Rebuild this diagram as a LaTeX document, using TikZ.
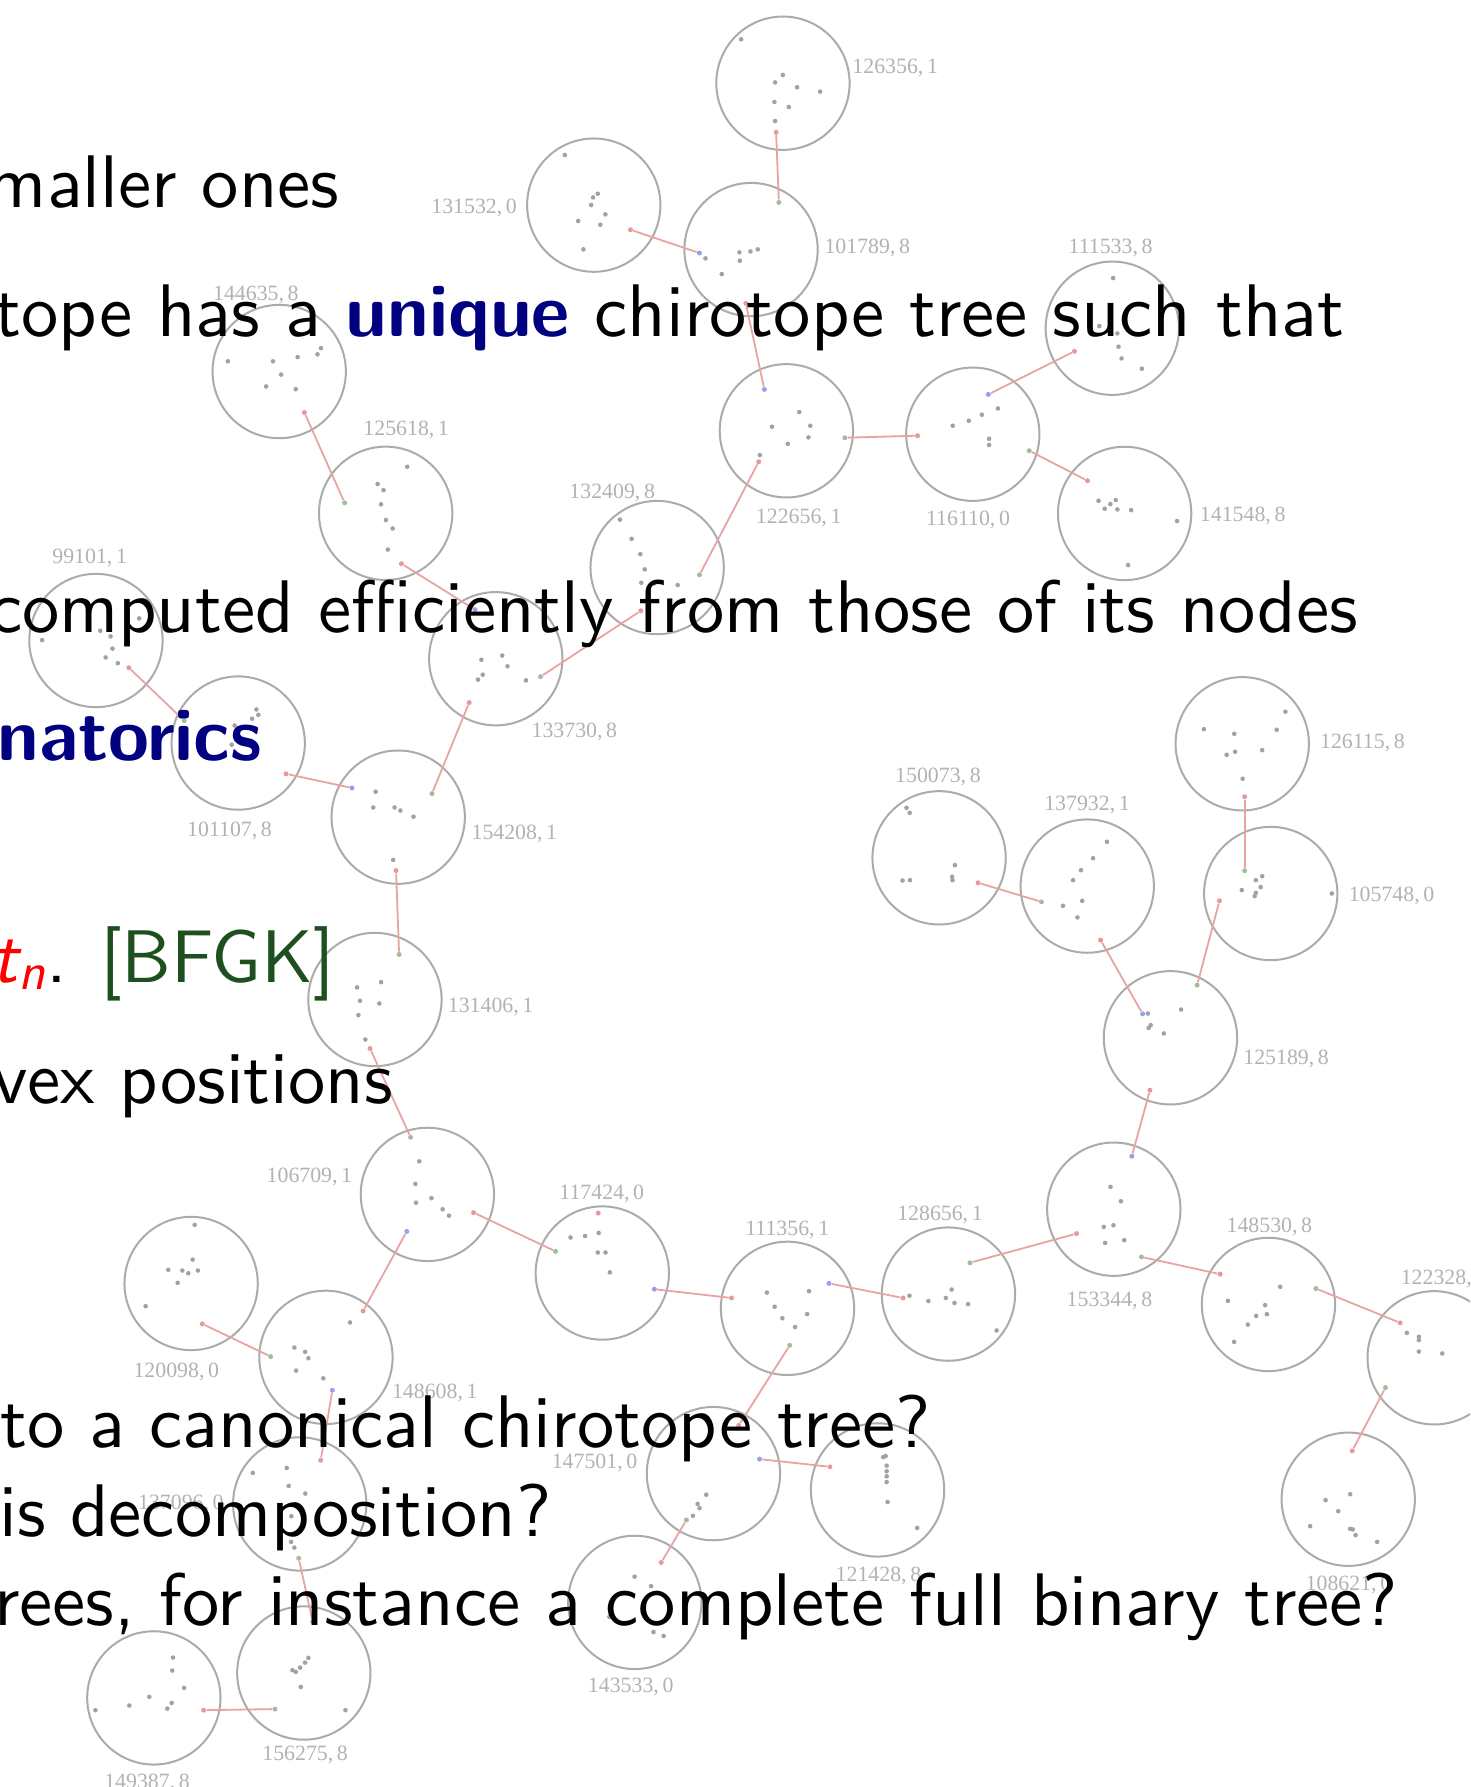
\documentclass[tikz,border=0pt]{standalone}
\usepackage{fontspec}
\usepackage{xcolor}
\newfontfamily\slidefont{lmsans10-regular.otf}[BoldFont=lmsans10-bold.otf, ItalicFont=lmsans10-oblique.otf]
\newfontfamily\tagfont{Liberation Serif}
\definecolor{ctBlue}{HTML}{000080}
\definecolor{ctGreen}{HTML}{1E4F1E}
\definecolor{ctRing}{HTML}{ABABAB}
\definecolor{ctPt}{HTML}{A2A2A2}
\definecolor{ctLink}{HTML}{E8A3A3}
\definecolor{ctPink}{HTML}{E8979A}
\definecolor{ctSage}{HTML}{A3BC9D}
\definecolor{ctLilac}{HTML}{9C9CF2}
\definecolor{ctLabel}{HTML}{B2B2B2}
\tikzset{
  ring/.style={circle, draw=ctRing, line width=1pt, minimum size=2.34cm, inner sep=0pt},
  ptdot/.style={fill=ctPt},
  endpt/.style={circle, inner sep=0pt, minimum size=2.5pt},
  pinkend/.style={endpt, fill=ctPink},
  sageend/.style={endpt, fill=ctSage},
  lilacend/.style={endpt, fill=ctLilac},
  link/.style={draw=ctLink, line width=0.9pt},
  tag/.style={font=\tagfont\fontsize{10.9}{12}\selectfont, text=ctLabel, inner sep=0pt, text depth=0pt},
  slide/.style={font=\slidefont\fontsize{37.2}{40}\selectfont, inner sep=0pt, anchor=base east}
}
\begin{document}
\begin{tikzpicture}[x=0.02cm, y=-0.02cm]
\useasboundingbox (0,0) rectangle (1290,1568);
\clip (0,0) rectangle (1290,1568);

% rings
\node[ring] (r126356) at (687,73) {};
\node[ring] (r131532) at (521,180) {};
\node[ring] (r101789) at (659,219) {};
\node[ring] (r144635) at (245,326) {};
\node[ring] (r111533) at (976,288) {};
\node[ring] (r122656) at (690,378) {};
\node[ring] (r116110) at (853.6,381) {};
\node[ring] (r125618) at (338.4,450.4) {};
\node[ring] (r141548) at (986.8,450.5) {};
\node[ring] (r132409) at (576.6,498) {};
\node[ring] (r99101) at (84.2,562) {};
\node[ring] (r133730) at (435,578) {};
\node[ring] (r101107) at (209,652) {};
\node[ring] (r154208) at (349.4,717) {};
\node[ring] (r126115) at (1090,652.6) {};
\node[ring] (r150073) at (824,752.7) {};
\node[ring] (r137932) at (954,777.5) {};
\node[ring] (r105748) at (1115,784) {};
\node[ring] (r131406) at (329,877) {};
\node[ring] (r125189) at (1027,910.6) {};
\node[ring] (r106709) at (375,1048) {};
\node[ring] (r117424) at (528.5,1117) {};
\node[ring] (r153344) at (977.3,1061) {};
\node[ring] (r111356) at (691,1148) {};
\node[ring] (r128656) at (832.2,1135.5) {};
\node[ring] (r148530) at (1113,1144.6) {};
\node[ring] (r120098) at (167.7,1126.2) {};
\node[ring] (r148608) at (286,1191) {};
\node[ring] (r122328) at (1258.4,1191.4) {};
\node[ring] (r137096) at (263,1319.6) {};
\node[ring] (r147501) at (626,1293) {};
\node[ring] (r121428) at (770,1307.3) {};
\node[ring] (r108621) at (1183,1315.5) {};
\node[ring] (r143533) at (557,1406) {};
\node[ring] (r149387) at (135,1489.8) {};
\node[ring] (r156275) at (266.6,1468) {};

% points
\foreach \x/\y in {650.3/34.5, 686.9/65.8, 680.1/72.3, 699.4/76.6, 719.6/80.4, 679.5/89.5, 692.1/93.9, 680.1/106.2,
  619/226.7, 648.8/221.4, 658.5/220.6, 664.9/218.8, 649.1/228.8, 633.3/240.5,
  495.6/136, 524.5/170, 520.4/173.2, 518.7/179.9, 531.2/188.1, 507.3/193.9, 526.8/197.2, 511.9/218.8,
  199.9/317, 239.5/317, 261.2/313.3, 278.6/310.9, 281.6/305.5, 246.7/328.7, 233.5/339.1, 259.5/341.5,
  357.3/409.6, 331.3/424.7, 336.5/430.1, 334.3/442.5, 338.6/456.3, 344.5/463.7, 340.3/482.2,
  701.3/361.6, 677.4/374.4, 711/373.6, 709.4/383.8, 691.2/389.4, 666.7/399.3,
  836/373.6, 850.1/369.2, 861.5/363.9, 875.6/358.4, 867.9/385, 867.9/390.5,
  976.7/244, 964.6/286.1, 980.4/292.5, 981.4/304.2, 984.1/314.5, 1001.9/323.5,
  963.9/439.4, 969.3/446.4, 974.3/442.3, 979/438.8, 980.4/447, 992.5/447.6, 1032.8/457.2, 989.8/495.8,
  544/456, 554.2/472.8, 561.9/486.2, 565.7/499.6, 562.7/511.4, 573.8/512, 594.6/513.4,
  122.1/542.6, 88/553.4, 97/558.4, 98.7/569.1, 92.7/576.9, 103.4/581.9, 37/561.7,
  422.4/578.9, 440.7/575.2, 445.3/584.6, 423.6/592, 419.4/596.3, 461.5/597,
  225/622.5, 226.7/627.2, 221.2/630.6, 205.9/636.6, 203.3/653.4,
  329.6/694.7, 327.5/708.5, 346.2/708.5, 351.3/711.2, 362.8/716.6, 345/754.5}
  \fill[ptdot] (\x,\y) circle (1.15pt);
\foreach \x/\y in {1127.9/624.5, 1056.3/639.8, 1083/643.9, 1120.2/640.3, 1076.3/662.3, 1083.7/659.6, 1107.5/658.2, 1090.3/683.3,
  795.4/708.8, 798.2/713.2, 791.9/772.6, 798.5/772.3, 837.9/759.1, 835.4/769.3, 835.8/772.3,
  971.3/738.6, 959.1/753, 948.5/763.5, 941.5/772.3, 949.6/790.4, 932.7/794.8, 945.4/805,
  1101.9/772.3, 1107.5/768.8, 1089.6/781, 1106.1/778.4, 1101.9/783.4, 1100.9/786.3, 1168.6/784,
  1007.2/889.3, 1036.3/885.8, 1009.7/899.5, 1007.9/901.9, 1021.2/906.8,
  334.4/861.8, 313.3/866.4, 315.9/878.1, 332.9/880.5, 314.5/890.7, 320.6/912.1, 284.3/871.1,
  367.9/1019, 364.5/1038.8, 365/1055.3, 378.6/1051.3, 388.4/1061, 393.9/1066.7,
  500.6/1085.8, 513.4/1084.5, 525.3/1081.8, 524.5/1099, 531.3/1099, 535.1/1116.4,
  672.9/1134.2, 709.9/1132.9, 679.7/1146.6, 686.5/1156.7, 708.2/1153, 697.6/1164.4,
  798/1136.9, 814.6/1141.6, 829.9/1138.9, 835/1131.5, 837.5/1143.3, 849.4/1144.3, 874.5/1167.4,
  974.4/1041.4, 983.5/1054, 968.5/1076.5, 977/1075.1, 969.7/1090.6, 986.4/1088.2,
  1123.3/1129.1, 1077.4/1141.4, 1110.1/1145.2, 1102.2/1154.6, 1111.6/1153.1, 1094.9/1162.2, 1082.9/1177.4,
  1234.4/1169.5, 1245/1173, 1245/1175.8, 1245/1185.9, 1265.5/1187.6,
  1184.7/1311.1, 1163.1/1316.3, 1174.2/1326, 1149.6/1339.1, 1184.7/1341.5, 1187/1342, 1189.4/1347, 1208.4/1352.9}
  \fill[ptdot] (\x,\y) circle (1.15pt);
\foreach \x/\y in {170.8/1074.7, 169/1105.2, 147.7/1114.2, 160/1114.8, 165.2/1117.2, 173.7/1114.8, 155.9/1125.6, 127.8/1146.1,
  258.3/1182.4, 267.7/1186.2, 270.6/1191.8, 259.8/1202.6, 283.7/1209.4, 307.1/1160.4,
  251.6/1288, 221.8/1292.4, 253.3/1303.8, 267.9/1310.5, 255.7/1330.4, 255.4/1352.9, 258.3/1357.9,
  619.7/1311.5, 612.1/1319.6, 613.8/1323.3, 608/1330,
  777.1/1277.6, 775/1278.5, 778/1286, 778/1291, 778/1295.4, 778/1300.4, 778.8/1317.9, 804.8/1340.7,
  556.8/1383.4, 571.3/1391.8, 534.7/1418.6, 573.4/1432, 582.3/1435.4,
  151.8/1454.4, 151.2/1465.8, 161.5/1481, 131/1488.9, 113.5/1496.5, 150.6/1494.2, 146.8/1499.2, 83.7/1500.6,
  270.6/1454.7, 267.7/1458.8, 263.3/1463.2, 259.5/1467, 256.6/1465.5, 263.9/1480.2, 303.1/1500.6}
  \fill[ptdot] (\x,\y) circle (1.15pt);

% link ends
\node[pinkend] (p126356) at (681,116.1) {};
\node[pinkend] (p131532) at (553.2,201.6) {};
\node[sageend] (g101789) at (683.4,177.6) {};
\node[lilacend] (b101789) at (613.7,222) {};
\node[pinkend] (p101789) at (654.4,266.2) {};
\node[pinkend] (p144635) at (267.1,362) {};
\node[sageend] (g125618) at (302.4,441.2) {};
\node[pinkend] (p125618) at (352.2,494.6) {};
\node[lilacend] (b122656) at (670.7,341.7) {};
\node[sageend] (g122656) at (741.3,384.1) {};
\node[pinkend] (p122656) at (665.7,405.2) {};
\node[lilacend] (b116110) at (867.2,346.1) {};
\node[sageend] (g116110) at (903.1,395.5) {};
\node[pinkend] (p116110) at (805.1,382.3) {};
\node[pinkend] (p111533) at (942.8,308.3) {};
\node[pinkend] (p141548) at (954.2,421.8) {};
\node[sageend] (g132409) at (613.8,504.3) {};
\node[pinkend] (p132409) at (562.3,535.9) {};
\node[pinkend] (p99101) at (113.1,585.9) {};
\node[sageend] (g133730) at (474.3,593.7) {};
\node[lilacend] (b133730) at (416.8,534.9) {};
\node[pinkend] (p133730) at (411.7,616.5) {};
\node[sageend] (g101107) at (161.6,632.3) {};
\node[pinkend] (p101107) at (251,679) {};
\node[lilacend] (b154208) at (308.8,691.4) {};
\node[sageend] (g154208) at (379,696.4) {};
\node[pinkend] (p154208) at (347.5,763.9) {};
\node[pinkend] (p126115) at (1092.1,699.1) {};
\node[pinkend] (p150073) at (858.2,774.6) {};
\node[sageend] (g137932) at (913.8,791.3) {};
\node[pinkend] (p137932) at (965.7,824.9) {};
\node[sageend] (g105748) at (1092.1,764) {};
\node[pinkend] (p105748) at (1070,790.4) {};
\node[lilacend] (b125189) at (1002.6,889.6) {};
\node[sageend] (g125189) at (1050.4,864.4) {};
\node[pinkend] (p125189) at (1009,956.6) {};
\node[sageend] (g131406) at (350.2,837.5) {};
\node[pinkend] (p131406) at (324.7,920) {};
\node[sageend] (g106709) at (360.3,997.9) {};
\node[pinkend] (p106709) at (415.6,1064) {};
\node[lilacend] (b106709) at (356.9,1080.5) {};
\node[pinkend] (p117424) at (524.9,1064.4) {};
\node[sageend] (g117424) at (487.5,1098) {};
\node[lilacend] (b117424) at (574.2,1131.2) {};
\node[pinkend] (p111356) at (641.9,1138.9) {};
\node[lilacend] (b111356) at (727.4,1126.1) {};
\node[sageend] (g111356) at (692.9,1180.5) {};
\node[pinkend] (p128656) at (792.4,1138.9) {};
\node[sageend] (g128656) at (851.1,1108) {};
\node[pinkend] (p153344) at (944.6,1082.4) {};
\node[sageend] (g153344) at (1001.6,1102.9) {};
\node[lilacend] (b153344) at (993.1,1014.5) {};
\node[pinkend] (p148530) at (1070.6,1118) {};
\node[sageend] (g148530) at (1154.6,1130.6) {};
\node[pinkend] (p122328) at (1228.6,1160.7) {};
\node[sageend] (g122328) at (1215.7,1217.5) {};
\node[pinkend] (p108621) at (1186.5,1273) {};
\node[pinkend] (p120098) at (177.5,1161.6) {};
\node[sageend] (g148608) at (237.5,1190.3) {};
\node[lilacend] (b148608) at (291.6,1219.9) {};
\node[pinkend] (p148608) at (318.6,1150.3) {};
\node[pinkend] (p137096) at (281.4,1281.3) {};
\node[sageend] (g137096) at (262.1,1367.3) {};
\node[sageend] (g147501) at (602.3,1333.7) {};
\node[lilacend] (b147501) at (666.5,1280.3) {};
\node[pinkend] (p147501) at (648.2,1250.7) {};
\node[pinkend] (p121428) at (728.2,1287) {};
\node[pinkend] (p143533) at (580.2,1371) {};
\node[pinkend] (p149387) at (178.7,1500.6) {};
\node[pinkend] (p156275) at (274.4,1423) {};
\node[sageend] (g156275) at (241.3,1499.6) {};

% links
\draw[link] (p126356) -- (g101789);
\draw[link] (p131532) -- (b101789);
\draw[link] (p101789) -- (b122656);
\draw[link] (p116110) -- (g122656);
\draw[link] (p111533) -- (b116110);
\draw[link] (p141548) -- (g116110);
\draw[link] (p122656) -- (g132409);
\draw[link] (p132409) -- (g133730);
\draw[link] (p125618) -- (b133730);
\draw[link] (p144635) -- (g125618);
\draw[link] (p133730) -- (g154208);
\draw[link] (p99101) -- (g101107);
\draw[link] (p101107) -- (b154208);
\draw[link] (p154208) -- (g131406);
\draw[link] (p131406) -- (g106709);
\draw[link] (p106709) -- (g117424);
\draw[link] (p148608) -- (b106709);
\draw[link] (p120098) -- (g148608);
\draw[link] (p137096) -- (b148608);
\draw[link] (p156275) -- (g137096);
\draw[link] (p149387) -- (g156275);
\draw[link] (p111356) -- (b117424);
\draw[link] (p128656) -- (b111356);
\draw[link] (p147501) -- (g111356);
\draw[link] (p121428) -- (b147501);
\draw[link] (p143533) -- (g147501);
\draw[link] (p153344) -- (g128656);
\draw[link] (p125189) -- (b153344);
\draw[link] (p148530) -- (g153344);
\draw[link] (p122328) -- (g148530);
\draw[link] (p108621) -- (g122328);
\draw[link] (p137932) -- (b125189);
\draw[link] (p105748) -- (g125189);
\draw[link] (p126115) -- (g105748);
\draw[link] (p150073) -- (g137932);

% tags
\node[tag] (t126356) at (785.5,58) {126356,\,1};
\node[tag] (t131532) at (416,181) {131532,\,0};
\node[tag] (t101789) at (761,216) {101789,\,8};
\node[tag] (t144635) at (224.5,257) {144635,\,8};
\node[tag] (t111533) at (974.5,216) {111533,\,8};
\node[tag] (t122656) at (700.8,453) {122656,\,1};
\node[tag] (t116110) at (849.4,455) {116110,\,0};
\node[tag] (t125618) at (356.4,376) {125618,\,1};
\node[tag] (t141548) at (1090.4,451) {141548,\,8};
\node[tag] (t132409) at (537.2,431) {132409,\,8};
\node[tag] (t99101) at (78.7,488.5) {99101,\,1};
\node[tag] (t133730) at (504,641) {133730,\,8};
\node[tag] (t101107) at (201.4,728) {101107,\,8};
\node[tag] (t154208) at (451.3,730.5) {154208,\,1};
\node[tag] (t126115) at (1195.5,650) {126115,\,8};
\node[tag] (t150073) at (823,680) {150073,\,8};
\node[tag] (t137932) at (953.8,705) {137932,\,1};
\node[tag] (t105748) at (1221,785) {105748,\,0};
\node[tag] (t131406) at (430.5,882) {131406,\,1};
\node[tag] (t125189) at (1128.5,928) {125189,\,8};
\node[tag] (t106709) at (271.5,1031) {106709,\,1};
\node[tag] (t117424) at (528,1046) {117424,\,0};
\node[tag] (t153344) at (973.5,1140) {153344,\,8};
\node[tag] (t111356) at (690.8,1078) {111356,\,1};
\node[tag] (t128656) at (824.8,1064.7) {128656,\,1};
\node[tag] (t148530) at (1113.8,1075) {148530,\,8};
\node[tag] (t120098) at (154.7,1202) {120098,\,0};
\node[tag] (t148608) at (381.5,1221) {148608,\,1};
\node[tag] (t122328) at (1266.6,1121) {122328,\,8};
\node[tag] (t137096) at (158.7,1318) {137096,\,0};
\node[tag] (t147501) at (521.7,1282) {147501,\,0};
\node[tag] (t121428) at (770.8,1381.7) {121428,\,8};
\node[tag] (t108621) at (1183.2,1389.5) {108621,\,0};
\node[tag] (t143533) at (553.4,1479) {143533,\,0};
\node[tag] (t149387) at (129,1562.5) {149387,\,8};
\node[tag] (t156275) at (267.7,1538.7) {156275,\,8};

% slide text
\node[slide] (line1) at (298,182) {maller ones};
\node[slide] (line2) at (1180,295) {tope has a \textbf{\color{ctBlue}unique} chirotope tree such that};
\node[slide] (line3) at (1192,555) {computed efficiently from those of its nodes};
\node[slide] (line4) at (230,667) {\textbf{\color{ctBlue}natorics}};
\node[slide] (line5) at (294,862) {{\color{red}\itshape t\textsubscript{n}}. {\color{ctGreen}[BFGK]}};
\node[slide] (line6) at (345,968) {vex positions};
\node[slide] (line7) at (817,1270) {to a canonical chirotope tree?};
\node[slide] (line8) at (484,1348) {is decomposition?};
\node[slide] (line9) at (1227,1426) {rees, for instance a complete full binary tree?};
\end{tikzpicture}
\end{document}
